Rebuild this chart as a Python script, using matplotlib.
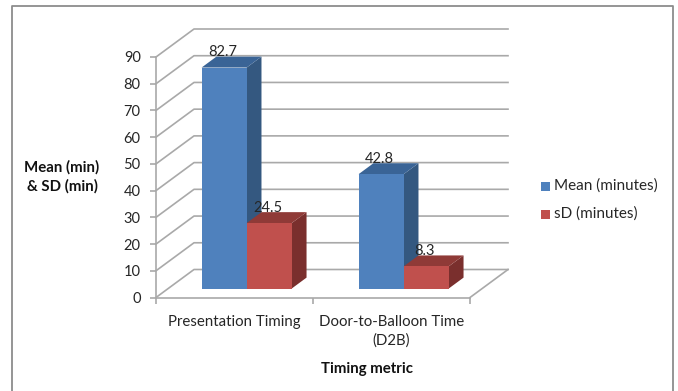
#!/usr/bin/env python3
"""
3D looking bars of timing metrics, drawn with sheared polygons
"""
import matplotlib
matplotlib.use("Agg")
import matplotlib.pyplot as plt
from matplotlib.patches import Polygon, Rectangle

categories = ["Presentation Timing", "Door-to-Balloon Time\n(D2B)"]
series_names = ["Mean (minutes)", "sD (minutes)"]
mean_values = [82.7, 42.8]
sd_values = [24.5, 8.3]
y_ticks = [0, 10, 20, 30, 40, 50, 60, 70, 80, 90]

W, H = 678, 391
GRID = "#a9a9a9"
TEXT = "#262626"
BLUE = ("#4f81bd", "#3a6496", "#345880")
RED = ("#c0504d", "#8f3a37", "#7a2f2d")

# how far one unit of depth moves a point, in data units
DEPTH_X = 38 / 157
DEPTH_Y = 28 / 2.672
BAR_W = 0.287
D_FRONT, D_BACK = 0.32, 0.71

plt.rcParams["font.family"] = ["Lato", "DejaVu Sans"]


def shear(x, y, d):
    return (x + d * DEPTH_X, y + d * DEPTH_Y)


def bar3d(ax, x0, value, cols):
    x1 = x0 + BAR_W
    front = [shear(x0, 0, D_FRONT), shear(x1, 0, D_FRONT), shear(x1, value, D_FRONT), shear(x0, value, D_FRONT)]
    top = [shear(x0, value, D_FRONT), shear(x1, value, D_FRONT), shear(x1, value, D_BACK), shear(x0, value, D_BACK)]
    side = [shear(x1, 0, D_FRONT), shear(x1, 0, D_BACK), shear(x1, value, D_BACK), shear(x1, value, D_FRONT)]
    ax.add_patch(Polygon(side, fc=cols[2], ec="none", clip_on=False, zorder=3))
    ax.add_patch(Polygon(top, fc=cols[1], ec="none", clip_on=False, zorder=3))
    ax.add_patch(Polygon(front, fc=cols[0], ec="none", clip_on=False, zorder=3))


fig = plt.figure(figsize=(W / 100, H / 100), dpi=100)
fig.patch.set_facecolor("white")

# outer frame, open at the bottom
fig.add_artist(plt.Line2D([12 / W, 12 / W, 673 / W, 673 / W],
                          [0, 1 - 5.5 / H, 1 - 5.5 / H, 0],
                          color="#8c8c8c", lw=1.3))

ax = fig.add_axes([156 / W, 1 - 297.5 / H, 314 / W, 240.5 / H])
ax.set_xlim(0, 2)
ax.set_ylim(0, 90)
ax.patch.set_alpha(0)
for s in ["top", "right"]:
    ax.spines[s].set_visible(False)
for s in ["left", "bottom"]:
    ax.spines[s].set_color(GRID)
    ax.spines[s].set_linewidth(1.2)

ax.set_yticks(y_ticks)
ax.set_xticks([0, 1, 2])
ax.set_xticklabels([])
ax.tick_params(axis="both", color=GRID, width=1.2, length=4, labelcolor=TEXT)
ax.tick_params(axis="y", labelsize=10.5, pad=7)

# walls
for y in y_ticks:
    xb, yb = shear(0, y, 1)
    xr, _ = shear(2, y, 1)
    ax.plot([0, xb, xr], [y, yb, yb], color=GRID, lw=1.2, clip_on=False, zorder=1)
xb, yb = shear(2, 0, 1)
ax.plot([2, xb], [0, yb], color=GRID, lw=1.2, clip_on=False, zorder=1)

# bars
for i, (m, sd) in enumerate(zip(mean_values, sd_values)):
    x0 = i + 0.5 - BAR_W
    bar3d(ax, x0, m, BLUE)
    bar3d(ax, x0 + BAR_W, sd, RED)
    for x, v in [(x0, m), (x0 + BAR_W, sd)]:
        px, py = shear(x + BAR_W / 2, v, D_BACK)
        ax.text(px - 0.103, py + 1.7, str(v), ha="center", va="center",
                fontsize=10.5, color=TEXT, zorder=4, clip_on=False)

    ax.text(i + 0.5, -6.5, categories[i], ha="center", va="top", fontsize=10.8,
            color=TEXT, linespacing=1.4, clip_on=False)

fig.text(62 / W, 1 - 177 / H, "Mean (min)\n& SD (min)", ha="center", va="center",
         fontsize=10.8, fontweight="bold", color="#111111", linespacing=1.35)
fig.text(367 / W, 1 - 369 / H, "Timing metric", ha="center", va="center",
         fontsize=10.8, fontweight="bold", color="#111111")

# legend
for name, col, ypix in zip(series_names, [BLUE[0], RED[0]], [186, 214]):
    fig.add_artist(Rectangle((541 / W, 1 - (ypix + 4.5) / H), 9 / W, 9 / H,
                             fc=col, ec="none", transform=fig.transFigure))
    fig.text(554 / W, 1 - ypix / H, name, ha="left", va="center", fontsize=11, color=TEXT)

fig.savefig("out.png", dpi=100)
